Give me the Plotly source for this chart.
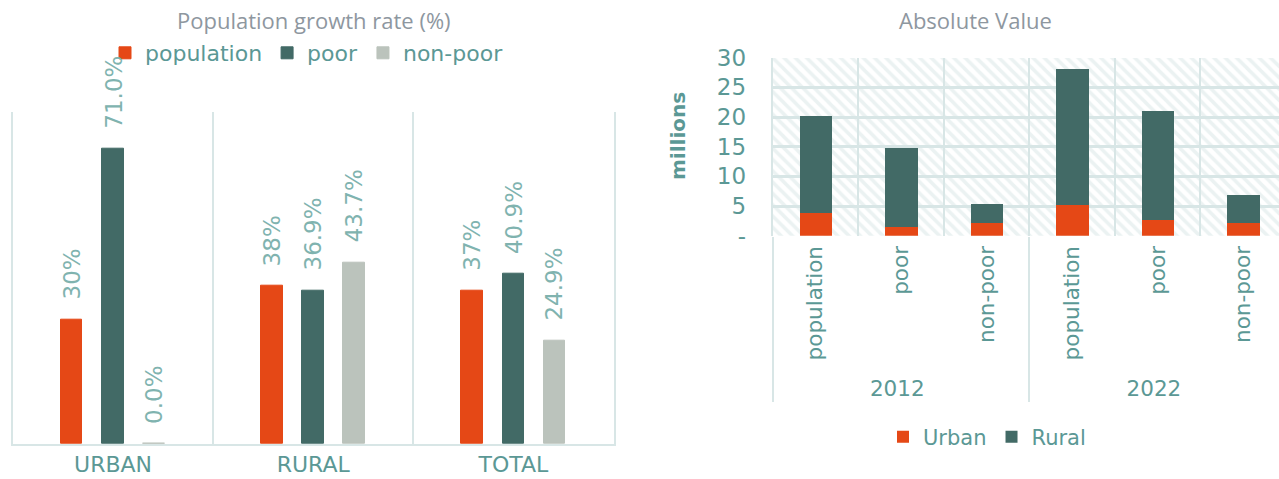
import plotly.graph_objects as go

# ---------------- data: left chart (growth rates, %) ----------------
growth_categories = ["URBAN", "RURAL", "TOTAL"]
growth_population = [30.0, 38.0, 37.0]
growth_poor = [71.0, 36.9, 40.9]
growth_nonpoor = [0.04, 43.7, 24.9]
growth_population_labels = ["30%", "38%", "37%"]
growth_poor_labels = ["71.0%", "36.9%", "40.9%"]
growth_nonpoor_labels = ["0.0%", "43.7%", "24.9%"]

# ---------------- data: right chart (absolute values, millions) ----------------
abs_years = ["2012", "2012", "2012", "2022", "2022", "2022"]
abs_groups = ["population", "poor", "non-poor", "population", "poor", "non-poor"]
abs_urban = [3.93, 1.57, 2.25, 5.17, 2.75, 2.25]
abs_rural = [16.37, 13.23, 3.15, 22.93, 18.35, 4.60]
abs_ytick_vals = [0, 5, 10, 15, 20, 25, 30]
abs_ytick_text = ["-", "5", "10", "15", "20", "25", "30"]
ABS_Y_MAX = 30

# ---------------- styles ----------------
ORANGE = "#E54816"
TEAL = "#426A66"
GRAY = "#BBC3BC"
LABEL = "#80B3AF"
TICK = "#5B9895"
LINE = "#D8E6E6"
TITLE = "#8E979F"
FONT = "DejaVu Sans"
TFONT = "Open Sans"

fig = go.Figure()

BAR_W = 0.108
left_series = [
    ("population", growth_population, growth_population_labels, ORANGE, -0.2075),
    ("poor", growth_poor, growth_poor_labels, TEAL, 0.0),
    ("non-poor", growth_nonpoor, growth_nonpoor_labels, GRAY, 0.205),
]
for name, vals, labels, color, center in left_series:
    fig.add_trace(go.Bar(
        x=growth_categories, y=vals, name=name,
        marker=dict(color=color, line=dict(width=1, color=color)),
        width=BAR_W, offset=center - BAR_W / 2,
        xaxis="x", yaxis="y", legend="legend", hoverinfo="skip",
    ))
    for j, (v, lab) in enumerate(zip(vals, labels)):
        fig.add_annotation(
            x=j + center, y=v, xref="x", yref="y", text=lab,
            textangle=-90, xanchor="center", yanchor="bottom", yshift=18,
            showarrow=False, font=dict(family=FONT, size=23, color=LABEL),
        )

# hatched plot background for the right chart
fig.add_trace(go.Bar(
    x=[abs_years, abs_groups], y=[ABS_Y_MAX] * len(abs_groups), width=1,
    marker=dict(color="rgba(0,0,0,0)", line=dict(width=0),
                pattern=dict(shape="\\", fgcolor=LINE, bgcolor="rgba(0,0,0,0)",
                             size=8, solidity=0.45)),
    xaxis="x2", yaxis="y2", showlegend=False, hoverinfo="skip",
))
fig.add_trace(go.Bar(
    x=[abs_years, abs_groups], y=abs_urban, name="Urban",
    marker=dict(color=ORANGE, line=dict(width=0)), width=0.38,
    xaxis="x2", yaxis="y2", legend="legend2", hoverinfo="skip",
))
fig.add_trace(go.Bar(
    x=[abs_years, abs_groups], y=abs_rural, base=abs_urban, name="Rural",
    marker=dict(color=TEAL, line=dict(width=0)), width=0.38,
    xaxis="x2", yaxis="y2", legend="legend2", hoverinfo="skip",
))

fig.add_annotation(x=314 / 1279, y=1 - 20 / 479, xref="paper", yref="paper",
                   text="Population growth rate (%)", showarrow=False,
                   xanchor="center", yanchor="middle",
                   font=dict(family=TFONT, size=22, color=TITLE))
fig.add_annotation(x=975 / 1279, y=1 - 20 / 479, xref="paper", yref="paper",
                   text="Absolute Value", showarrow=False,
                   xanchor="center", yanchor="middle",
                   font=dict(family=TFONT, size=22, color=TITLE))
fig.add_annotation(x=678 / 1279, y=1 - 136 / 479, xref="paper", yref="paper",
                   text="<b>millions</b>", showarrow=False, textangle=-90,
                   xanchor="center", yanchor="middle",
                   font=dict(family=FONT, size=20, color=TICK))

fig.update_layout(
    width=1279, height=479,
    margin=dict(l=0, r=0, t=0, b=0),
    paper_bgcolor="white", plot_bgcolor="rgba(0,0,0,0)",
    barmode="overlay", bargap=0,
    xaxis=dict(domain=[13 / 1279, 613.5 / 1279], range=[-0.5, 2.5], type="category",
               anchor="y", tickson="boundaries", showgrid=True, gridcolor=LINE, gridwidth=2,
               showline=True, linecolor=LINE, linewidth=2, ticks="",
               tickfont=dict(family=FONT, size=22, color=TICK), ticklabelstandoff=0,
               automargin=False, fixedrange=True, zeroline=False),
    yaxis=dict(domain=[1 - 444 / 479, 1 - 111.7 / 479], range=[0, 80], anchor="x",
               showticklabels=False, showgrid=False, zeroline=False, ticks="",
               showline=True, mirror=True, linecolor=LINE, linewidth=2, fixedrange=True),
    xaxis2=dict(domain=[772.7 / 1279, 1.0], range=[-0.5, 5.418], type="multicategory",
                anchor="y2", tickson="boundaries", showgrid=True, gridcolor=LINE, gridwidth=2,
                showdividers=True, dividercolor=LINE, dividerwidth=2, tickangle=-90,
                ticks="", tickfont=dict(family=FONT, size=21.5, color=TICK),
                ticklabelstandoff=5,
                showline=False, automargin=False, fixedrange=True, zeroline=False),
    yaxis2=dict(domain=[1 - 235.7 / 479, 1 - 57.7 / 479], range=[0, ABS_Y_MAX], anchor="x2",
                tickvals=abs_ytick_vals, ticktext=abs_ytick_text, showgrid=True,
                gridcolor=LINE, gridwidth=3, zeroline=False, ticks="",
                showline=True, linecolor=LINE, linewidth=2,
                tickfont=dict(family=FONT, size=23, color=TICK), ticklabelstandoff=20,
                automargin=False, fixedrange=True),
    legend=dict(orientation="h", x=105 / 1279, y=1 - 53 / 479, xanchor="left",
                yanchor="middle", font=dict(family=FONT, size=22, color=TICK),
                bgcolor="rgba(0,0,0,0)", traceorder="normal"),
    legend2=dict(orientation="h", x=883 / 1279, y=1 - 437 / 479, xanchor="left",
                 yanchor="middle", font=dict(family=FONT, size=21, color=TICK),
                 bgcolor="rgba(0,0,0,0)", traceorder="normal"),
)

fig.write_html("out.html")
